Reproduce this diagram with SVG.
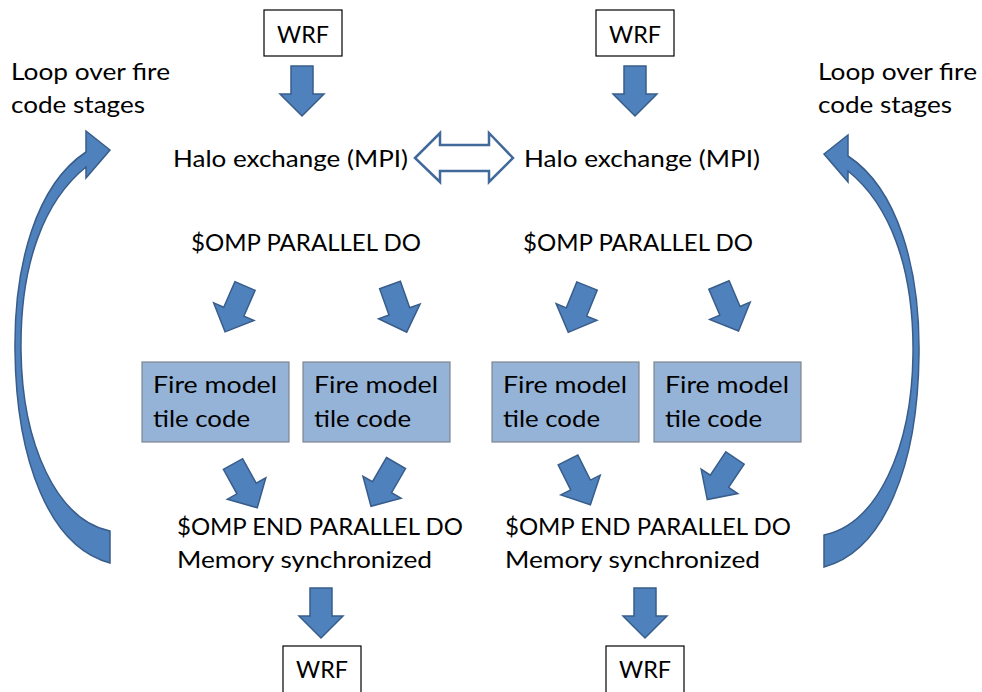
<svg xmlns="http://www.w3.org/2000/svg" width="982" height="692" viewBox="0 0 982 692">
<style>
text{font-family:"Lato","Liberation Sans",sans-serif;font-size:23px;fill:#000}
.wrf{fill:#fff;stroke:#000;stroke-width:1.2}
.tile{fill:#95B3D7;stroke:#7f8590;stroke-width:1.2}
.ar{fill:#4F81BD;stroke:#385D8A;stroke-width:1.5;stroke-linejoin:miter}
.dbl{fill:#fff;stroke:#41699A;stroke-width:2.5;stroke-linejoin:miter}
</style>
<defs>
<path id="dn" d="M -11 0 L 11 0 L 11 28 L 22 28 L 0 50 L -22 28 L -11 28 Z"/>
<path id="curve" d="M 110 531 C 57 520 22 445 21 350 C 20 262 45 200 86 167 L 86 178 L 110 150 L 86 131 L 86 152 C 36 185 14 265 15 350 C 16 462 50 547 110 563 Z"/>
</defs>
<rect width="982" height="692" fill="#fff"/>

<g id="loop-left-label">
<text x="11" y="80" textLength="159" lengthAdjust="spacingAndGlyphs">Loop over fire</text>
<text x="11" y="113" textLength="134" lengthAdjust="spacingAndGlyphs">code stages</text>
</g>
<g id="loop-right-label">
<text x="818" y="80" textLength="159" lengthAdjust="spacingAndGlyphs">Loop over fire</text>
<text x="818" y="113" textLength="134" lengthAdjust="spacingAndGlyphs">code stages</text>
</g>

<g id="wrf-top-left"><rect class="wrf" x="264" y="10" width="78" height="46"/><text x="303" y="43" text-anchor="middle" textLength="52" lengthAdjust="spacingAndGlyphs">WRF</text></g>
<g id="wrf-top-right"><rect class="wrf" x="596" y="10" width="78" height="46"/><text x="635" y="43" text-anchor="middle" textLength="52" lengthAdjust="spacingAndGlyphs">WRF</text></g>
<g id="wrf-bottom-left"><rect class="wrf" x="283" y="646" width="78" height="50"/><text x="322" y="678" text-anchor="middle" textLength="52" lengthAdjust="spacingAndGlyphs">WRF</text></g>
<g id="wrf-bottom-right"><rect class="wrf" x="606" y="646" width="78" height="50"/><text x="645" y="678" text-anchor="middle" textLength="52" lengthAdjust="spacingAndGlyphs">WRF</text></g>

<g id="halo-left"><text x="173" y="167" textLength="235" lengthAdjust="spacingAndGlyphs">Halo exchange (MPI)</text></g>
<g id="halo-right"><text x="524" y="167" textLength="236" lengthAdjust="spacingAndGlyphs">Halo exchange (MPI)</text></g>

<g id="omp-left"><text x="191" y="251" textLength="230" lengthAdjust="spacingAndGlyphs">$OMP PARALLEL DO</text></g>
<g id="omp-right"><text x="523" y="251" textLength="230" lengthAdjust="spacingAndGlyphs">$OMP PARALLEL DO</text></g>

<g id="tile-1"><rect class="tile" x="142" y="362" width="147" height="80"/><text x="153" y="393" textLength="124" lengthAdjust="spacingAndGlyphs">Fire model</text><text x="153" y="427" textLength="97" lengthAdjust="spacingAndGlyphs">tile code</text></g>
<g id="tile-2"><rect class="tile" x="303" y="362" width="147" height="80"/><text x="314" y="393" textLength="124" lengthAdjust="spacingAndGlyphs">Fire model</text><text x="314" y="427" textLength="97" lengthAdjust="spacingAndGlyphs">tile code</text></g>
<g id="tile-3"><rect class="tile" x="492" y="362" width="147" height="80"/><text x="503" y="393" textLength="124" lengthAdjust="spacingAndGlyphs">Fire model</text><text x="503" y="427" textLength="97" lengthAdjust="spacingAndGlyphs">tile code</text></g>
<g id="tile-4"><rect class="tile" x="654" y="362" width="147" height="80"/><text x="665" y="393" textLength="124" lengthAdjust="spacingAndGlyphs">Fire model</text><text x="665" y="427" textLength="97" lengthAdjust="spacingAndGlyphs">tile code</text></g>

<g id="end-left"><text x="177" y="535" textLength="286" lengthAdjust="spacingAndGlyphs">$OMP END PARALLEL DO</text><text x="177" y="568" textLength="255" lengthAdjust="spacingAndGlyphs">Memory synchronized</text></g>
<g id="end-right"><text x="505" y="535" textLength="286" lengthAdjust="spacingAndGlyphs">$OMP END PARALLEL DO</text><text x="505" y="568" textLength="255" lengthAdjust="spacingAndGlyphs">Memory synchronized</text></g>

<g id="connectors">
<use href="#dn" class="ar" transform="translate(302,66)"/>
<use href="#dn" class="ar" transform="translate(635,66)"/>
<use href="#dn" class="ar" transform="translate(321,588)"/>
<use href="#dn" class="ar" transform="translate(645,588)"/>
<use href="#dn" class="ar" transform="translate(245,286) rotate(23.5)"/>
<use href="#dn" class="ar" transform="translate(390,285) rotate(-19.5)"/>
<use href="#dn" class="ar" transform="translate(233,464) rotate(-29)"/>
<use href="#dn" class="ar" transform="translate(396,463) rotate(30)"/>
<use href="#dn" class="ar" transform="translate(587,286) rotate(22)"/>
<use href="#dn" class="ar" transform="translate(719,285) rotate(-23)"/>
<use href="#dn" class="ar" transform="translate(568,460) rotate(-26.6)"/>
<use href="#dn" class="ar" transform="translate(735,458) rotate(33.7)"/>
<path class="dbl" d="M 415 158 L 440 133 L 440 145 L 489 145 L 489 133 L 513 158 L 489 182 L 489 171 L 440 171 L 440 182 Z"/>
<use href="#curve" class="ar"/>
<use href="#curve" class="ar" transform="translate(934,4) scale(-1,1)"/>
</g>
</svg>
